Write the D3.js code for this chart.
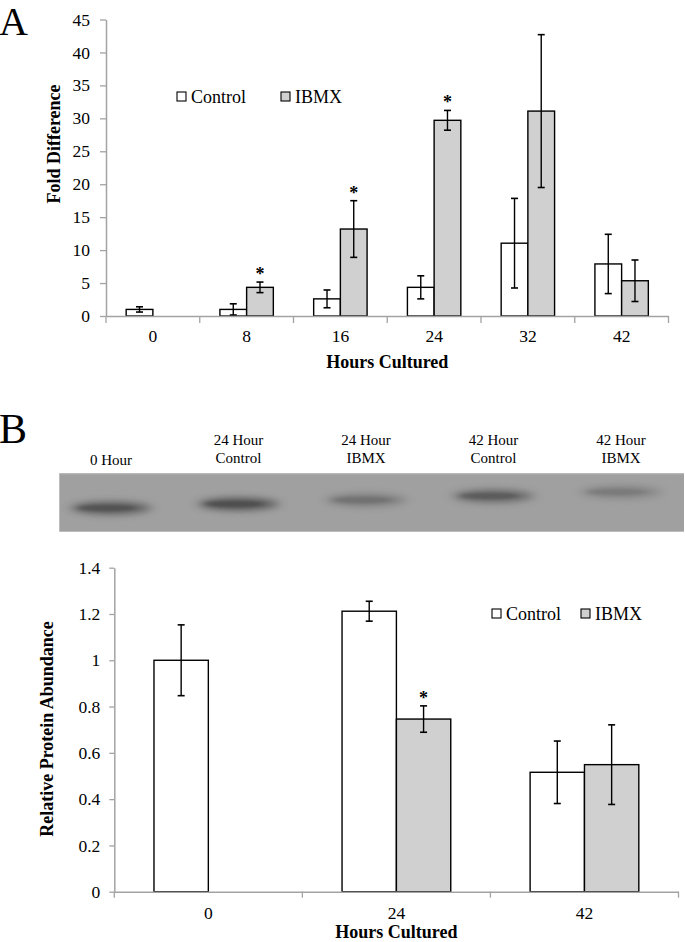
<!DOCTYPE html>
<html>
<head>
<meta charset="utf-8">
<script src="https://cdn.jsdelivr.net/npm/d3@7/dist/d3.min.js"></script>
<style>
  html, body { margin: 0; padding: 0; background: #fff; }
  svg { display: block; }
  svg text { font-family: "Liberation Serif", "Times New Roman", Times, serif !important; fill: #000; }
</style>
</head>
<body>
<svg id="chart" width="685" height="942" font-family="Liberation Serif, Times New Roman, serif"></svg>
<script>
// ---------------- DATA ----------------
const seriesNames = ["Control", "IBMX"];

// Panel A: fold difference
const hoursA = ["0", "8", "16", "24", "32", "42"];
const controlA = [1.0, 1.0, 2.6, 4.35, 11.05, 7.9];
const controlAErr = [0.4, 0.85, 1.35, 1.75, 6.8, 4.5];
const ibmxA = [null, 4.35, 13.2, 29.7, 31.1, 5.35];
const ibmxAErr = [0, 0.8, 4.3, 1.5, 11.6, 3.15];
const sigA = [false, true, true, true, false, false];
const ticksA = [0, 5, 10, 15, 20, 25, 30, 35, 40, 45];

// Panel B: relative protein abundance
const hoursB = ["0", "24", "42"];
const controlB = [1.0, 1.212, 0.516];
const controlBErr = [0.153, 0.043, 0.135];
const ibmxB = [null, 0.746, 0.549];
const ibmxBErr = [0, 0.057, 0.172];
const sigB = [false, true, false];
const ticksB = [0, 0.2, 0.4, 0.6, 0.8, 1.0, 1.2, 1.4];

// Blot lanes
const laneLine1 = ["0 Hour", "24 Hour", "24 Hour", "42 Hour", "42 Hour"];
const laneLine2 = ["", "Control", "IBMX", "Control", "IBMX"];
const laneIntensity = [0.85, 0.92, 0.45, 0.72, 0.35];

// ---------------- STYLE ----------------
const FONT = '"Liberation Serif", "Times New Roman", serif';
const AXIS_COLOR = "#a3a3a3";
const IBMX_FILL = "#d0d0d0";
const fills = { Control: "#ffffff", IBMX: IBMX_FILL };

const svg = d3.select("#chart");

function rows(cats, c, ce, b, be, sig) {
  return cats.map((h, i) => ({
    cat: h,
    bars: [
      { s: "Control", v: c[i], e: ce[i], sig: false },
      { s: "IBMX", v: b[i], e: be[i], sig: sig[i] }
    ]
  }));
}

function drawPanel(opts) {
  const { cats, data, y, x, x1, tickVals, tickFmt, yTickSize, yTickPad,
          xTickPad, xTickLen, fontSize, xTitle, xTitleY, yTitle, yTitleX, yTitleY,
          legendX, legendY, legendGap } = opts;
  const g = svg.append("g");
  const y0 = y.range()[0];
  const xr = x.range();

  const ya = g.append("g").attr("transform", `translate(${xr[0]},0)`)
    .call(d3.axisLeft(y).tickValues(tickVals).tickFormat(tickFmt)
      .tickSize(yTickSize).tickSizeOuter(0).tickPadding(yTickPad));
  ya.attr("font-family", FONT);
  ya.select(".domain").attr("stroke", AXIS_COLOR).attr("stroke-width", 1.5);
  ya.selectAll(".tick line").attr("stroke", AXIS_COLOR).attr("stroke-width", 1.3);
  ya.selectAll(".tick text").attr("font-size", fontSize).attr("fill", "#000");

  const grp = g.selectAll(".grp").data(data).join("g")
    .attr("transform", d => `translate(${x(d.cat)},0)`);
  grp.selectAll("rect").data(d => d.bars.filter(b => b.v != null)).join("rect")
    .attr("x", d => x1(d.s))
    .attr("y", d => y(d.v))
    .attr("width", x1.bandwidth())
    .attr("height", d => y0 - y(d.v))
    .attr("fill", d => fills[d.s])
    .attr("stroke", "#000")
    .attr("stroke-width", 1.4);

  const eb = grp.selectAll(".eb").data(d => d.bars.filter(b => b.v != null)).join("g")
    .attr("class", "eb")
    .attr("transform", d => `translate(${x1(d.s) + x1.bandwidth() / 2},0)`);
  eb.append("line").attr("x1", 0).attr("x2", 0)
    .attr("y1", d => y(d.v + d.e)).attr("y2", d => y(Math.max(0, d.v - d.e)))
    .attr("stroke", "#000").attr("stroke-width", 1.4);
  eb.append("line").attr("x1", -3.5).attr("x2", 3.5)
    .attr("y1", d => y(d.v + d.e)).attr("y2", d => y(d.v + d.e))
    .attr("stroke", "#000").attr("stroke-width", 1.6);
  eb.append("line").attr("x1", -3.5).attr("x2", 3.5)
    .attr("y1", d => y(Math.max(0, d.v - d.e))).attr("y2", d => y(Math.max(0, d.v - d.e)))
    .attr("stroke", "#000").attr("stroke-width", 1.6);
  eb.filter(d => d.sig).append("text")
    .attr("x", 0).attr("y", d => y(d.v + d.e) - 2)
    .attr("text-anchor", "middle").attr("font-weight", "bold").attr("font-size", 18)
    .text("*");

  const xa = g.append("g").attr("transform", `translate(0,${y0})`)
    .call(d3.axisBottom(x).tickSize(0).tickPadding(xTickPad));
  xa.attr("font-family", FONT);
  xa.select(".domain").attr("stroke", AXIS_COLOR).attr("stroke-width", 1.5);
  xa.selectAll(".tick text").attr("font-size", fontSize).attr("fill", "#000");
  const bounds = cats.map(c => x(c)).concat([xr[1]]);
  xa.selectAll(".bt").data(bounds).join("line").attr("class", "bt")
    .attr("x1", d => d).attr("x2", d => d).attr("y1", 0).attr("y2", xTickLen)
    .attr("stroke", AXIS_COLOR).attr("stroke-width", 1.3);

  g.append("text").attr("x", (xr[0] + xr[1]) / 2).attr("y", xTitleY)
    .attr("text-anchor", "middle").attr("font-weight", "bold").attr("font-size", 18)
    .text(xTitle);
  g.append("text").attr("transform", `translate(${yTitleX},${yTitleY}) rotate(-90)`)
    .attr("text-anchor", "middle").attr("font-weight", "bold").attr("font-size", 18)
    .text(yTitle);

  const lg = g.append("g").attr("transform", `translate(${legendX},${legendY})`);
  const li = lg.selectAll("g").data(seriesNames).join("g")
    .attr("transform", (d, i) => `translate(${i * legendGap},0)`);
  li.append("rect").attr("x", 0).attr("y", -4.5).attr("width", 9).attr("height", 9)
    .attr("fill", d => fills[d]).attr("stroke", "#000").attr("stroke-width", 1.1);
  li.append("text").attr("x", 14).attr("y", 6).attr("font-size", 18).text(d => d);
}

// ---------- Panel A ----------
const yA = d3.scaleLinear().domain([0, 45]).range([316, 19.5]);
const xA = d3.scaleBand().domain(hoursA).range([106, 668.5]);
const x1A = d3.scaleBand().domain(seriesNames).range([0, xA.bandwidth()]).paddingInner(0).paddingOuter(0.755);
drawPanel({
  cats: hoursA, data: rows(hoursA, controlA, controlAErr, ibmxA, ibmxAErr, sigA),
  y: yA, x: xA, x1: x1A, tickVals: ticksA, tickFmt: d3.format("d"),
  yTickSize: 6, yTickPad: 10, xTickPad: 14, xTickLen: 7, fontSize: 17.5,
  xTitle: "Hours Cultured", xTitleY: 368,
  yTitle: "Fold Difference", yTitleX: 60, yTitleY: 144,
  legendX: 177, legendY: 96.5, legendGap: 104
});
svg.append("text").attr("x", -1).attr("y", 35).attr("font-size", 40).text("A");

// ---------- Panel B ----------
const yB = d3.scaleLinear().domain([0, 1.4]).range([891.7, 567.7]);
const xB = d3.scaleBand().domain(hoursB).range([114.3, 678.5]);
const x1B = d3.scaleBand().domain(seriesNames).range([0, xB.bandwidth()]).paddingInner(0).paddingOuter(0.73);
drawPanel({
  cats: hoursB, data: rows(hoursB, controlB, controlBErr, ibmxB, ibmxBErr, sigB),
  y: yB, x: xB, x1: x1B, tickVals: ticksB, tickFmt: d3.format("~g"),
  yTickSize: 5, yTickPad: 9, xTickPad: 14.4, xTickLen: 6, fontSize: 17.5,
  xTitle: "Hours Cultured", xTitleY: 938,
  yTitle: "Relative Protein Abundance", yTitleX: 53, yTitleY: 729,
  legendX: 492, legendY: 613.5, legendGap: 89
});
svg.append("text").attr("x", -1).attr("y", 443).attr("font-size", 42).text("B");

// ---------- Western blot image ----------
const defs = svg.append("defs");
defs.append("filter").attr("id", "blur").attr("x", "-40%").attr("y", "-150%")
  .attr("width", "180%").attr("height", "400%")
  .append("feGaussianBlur").attr("stdDeviation", "6 3.2");
defs.append("filter").attr("id", "blur2").attr("x", "-40%").attr("y", "-150%")
  .attr("width", "180%").attr("height", "400%")
  .append("feGaussianBlur").attr("stdDeviation", "3 1.6");
const blot = { x0: 59.3, y0: 473.3, x1: 684, y1: 531.7 };
svg.append("rect").attr("x", blot.x0).attr("y", blot.y0)
  .attr("width", blot.x1 - blot.x0).attr("height", blot.y1 - blot.y0)
  .attr("fill", "#a0a0a0");
svg.append("line").attr("x1", blot.x0).attr("x2", blot.x1).attr("y1", blot.y0 + 0.5).attr("y2", blot.y0 + 0.5)
  .attr("stroke", "#b8b8b8").attr("stroke-width", 1);

const lane = d3.scalePoint().domain(d3.range(laneLine1.length)).range([111, 621]);
const laneG = svg.append("g");
laneG.selectAll(".band").data(laneIntensity).join("ellipse").attr("class", "band")
  .attr("cx", (d, i) => lane(i))
  .attr("cy", (d, i) => 508 - i * 4)
  .attr("rx", 40).attr("ry", 7)
  .attr("fill", "#404040").attr("opacity", d => d * 0.7)
  .attr("filter", "url(#blur)");
laneG.selectAll(".core").data(laneIntensity).join("ellipse").attr("class", "core")
  .attr("cx", (d, i) => lane(i) - 4)
  .attr("cy", (d, i) => 508 - i * 4)
  .attr("rx", 30).attr("ry", 3.5)
  .attr("fill", "#303030").attr("opacity", d => d * 0.45)
  .attr("filter", "url(#blur2)");

laneG.selectAll(".l1").data(laneLine1).join("text").attr("class", "l1")
  .attr("x", (d, i) => lane(i))
  .attr("y", (d, i) => laneLine2[i] ? 445 : 465)
  .attr("text-anchor", "middle").attr("font-size", 15).text(d => d);
laneG.selectAll(".l2").data(laneLine2).join("text").attr("class", "l2")
  .attr("x", (d, i) => lane(i)).attr("y", 463)
  .attr("text-anchor", "middle").attr("font-size", 15).text(d => d);
</script>
</body>
</html>
